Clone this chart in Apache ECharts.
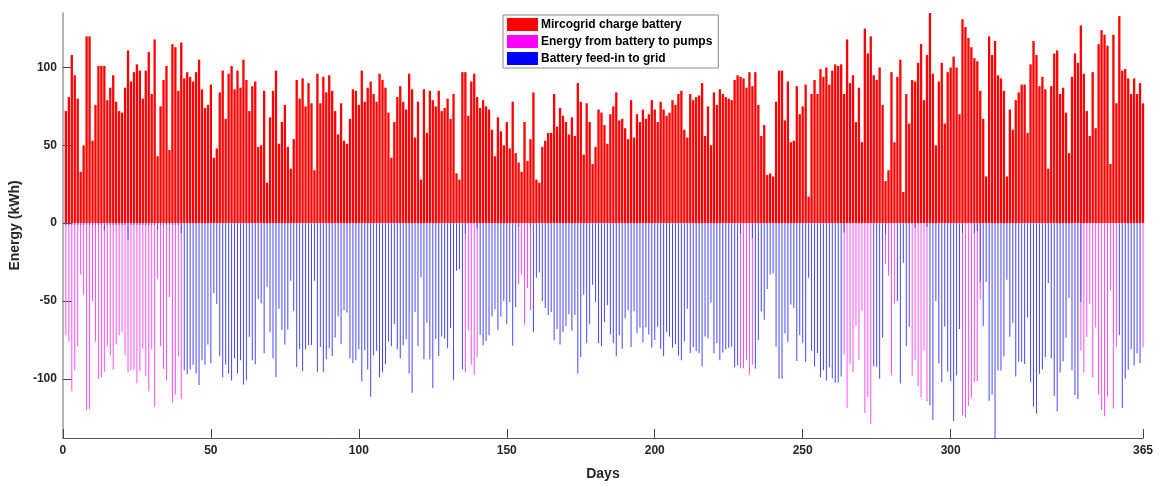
<!DOCTYPE html>
<html>
<head>
<meta charset="utf-8">
<script src="https://cdn.jsdelivr.net/npm/echarts@6/dist/echarts.min.js"></script>
<style>
  html, body { margin: 0; padding: 0; background: #fff; }
  #chart { width: 1163px; height: 486px; }
</style>
</head>
<body>
<div id="chart"></div>
<script>
// daily energy (kWh), day 1..365
const charge = [
  72, 81, 108, 95, 80, 33, 50, 120, 120, 53, 76, 101, 101, 101, 79, 87, 95, 78, 72, 71,
  87, 111, 91, 97, 102, 98, 80, 98, 110, 83, 118, 43, 75, 92, 101, 47, 115, 113, 85, 116,
  93, 97, 94, 91, 97, 105, 86, 74, 76, 89, 42, 48, 84, 98, 67, 96, 101, 86, 98, 87, 105,
  92, 72, 88, 91, 49, 50, 85, 26, 68, 85, 98, 51, 65, 76, 49, 35, 54, 92, 80, 93,
  75, 90, 77, 34, 96, 77, 94, 84, 95, 85, 72, 57, 77, 53, 51, 67, 86, 85, 76, 98,
  78, 87, 91, 83, 78, 96, 92, 87, 71, 42, 65, 81, 88, 78, 73, 96, 86, 55, 78, 28, 86, 58,
  85, 79, 75, 85, 72, 74, 80, 67, 83, 32, 28, 97, 97, 69, 91, 96, 81, 74, 79, 75,
  73, 60, 43, 68, 59, 50, 65, 48, 78, 45, 39, 33, 65, 40, 54, 84, 28, 26, 49, 53,
  58, 58, 83, 62, 74, 69, 65, 57, 68, 56, 90, 78, 44, 77, 65, 38, 49, 73, 71, 63, 51, 70,
  75, 84, 66, 67, 61, 54, 79, 55, 70, 65, 73, 67, 70, 79, 73, 65, 78, 73, 69, 71,
  79, 76, 83, 85, 60, 55, 83, 79, 81, 82, 90, 56, 75, 50, 84, 76, 86, 83, 81, 80,
  79, 92, 95, 94, 93, 87, 97, 88, 97, 76, 56, 63, 31, 32, 30, 78, 98, 98, 66, 91, 52,
  53, 88, 70, 75, 89, 17, 83, 92, 83, 99, 94, 100, 89, 98, 102, 101, 102, 83, 118, 90,
  95, 65, 87, 52, 125, 109, 120, 95, 92, 100, 76, 27, 34, 97, 52, 94, 105, 20, 83, 64,
  92, 91, 103, 115, 79, 108, 135, 96, 50, 91, 103, 64, 97, 100, 107, 100, 70, 131, 126, 119, 113, 106,
  104, 85, 67, 30, 120, 108, 117, 95, 93, 85, 30, 73, 60, 79, 84, 89, 89, 58, 102, 117,
  108, 88, 94, 86, 35, 88, 109, 111, 83, 87, 71, 45, 94, 109, 103, 127, 96, 72, 56, 97,
  61, 115, 124, 121, 114, 38, 121, 77, 133, 98, 99, 93, 83, 93, 83, 90, 77
];

// battery discharge per day (negative), either to pumps or to grid
const discharge = [
  -72, -76, -108, -94.5, -79, -33, -46, -120, -119.6, -50, -76, -100, -99, -95.5, -79, -85, -94, -78, -72, -70,
  -85, -96, -94.5, -94, -103, -95, -80.6, -98, -108, -81, -118, -35.5, -79, -93.6, -101, -47.4, -115, -110, -85.7, -113,
  -94.5, -97, -94, -91, -96.6, -104, -88, -91, -78, -90, -45, -52, -85.5, -99, -91, -96.6, -101, -87, -96.6, -88, -103.6,
  -100.9, -73, -88, -90.6, -48.7, -51.5, -83.6, -40.9, -70, -86.8, -99, -55, -68.7, -78, -68.3, -37, -56.4, -92.6, -81, -95,
  -81, -78.5, -78.3, -37, -95.7, -79.6, -95.7, -87.4, -80.4, -85.3, -73.4, -60, -77.7, -55.7, -57.4, -87, -89.8, -88, -81, -101.7,
  -81.7, -93.8, -111.5, -85, -82, -99, -96, -90.6, -76, -79, -64.7, -81, -87, -78.5, -74.5, -96.6, -109, -57, -79, -34.7, -87.4, -64,
  -87.4, -106, -74.3, -85.3, -72.8, -74.3, -80.4, -67.4, -100.6, -30.6, -29.6, -93.8, -95.7, -69, -91, -97.4, -86, -71.7, -78.5, -75.7,
  -72, -60, -55.3, -68.5, -60, -50, -65, -50.6, -78.7, -54, -39.4, -32.8, -65.3, -41.7, -56, -70, -35, -31.7, -50, -54.5,
  -59, -57, -75.3, -68, -78, -70, -66, -58.5, -69, -59, -96.8, -86, -46, -77, -65, -39.6, -50.6, -77, -79, -63.6, -52.8, -71.5,
  -77, -85.5, -72, -80.6, -61, -56, -79.6, -56.6, -70.6, -67, -76.6, -66.8, -71.5, -79.8, -75, -66.6, -80.6, -85.5, -70, -72.8,
  -80, -77.7, -85, -88, -76, -55, -83.4, -79.6, -82.3, -83.6, -92, -72.8, -74, -51, -83.6, -77, -88, -83, -81, -80,
  -79.4, -92.6, -91.3, -93.2, -93.2, -88, -97, -91, -93.4, -75, -56.8, -62, -42.3, -33, -32.3, -79.4, -100, -100, -70.8, -76.4, -52.3,
  -54.5, -88.5, -72, -76.8, -89, -35, -82, -92, -83.4, -99, -94.5, -101, -92.5, -99.6, -102.6, -102.3, -98.5, -84.5, -118.5, -90.6,
  -95.7, -66, -87.9, -56.4, -122, -111.7, -129, -92, -92.3, -100, -73.4, -26, -33.8, -97.4, -51.5, -50, -103, -25.5, -79, -66.6,
  -98, -87.7, -104.7, -111.7, -82, -114.5, -117, -126.4, -50, -90.2, -102, -66.4, -95.5, -101.5, -127, -97.7, -68, -123.4, -125, -117.4, -112.5, -102,
  -101.5, -49, -66, -37.7, -114, -110, -138, -94.7, -94.7, -85.5, -36.4, -73, -64, -98.5, -89, -89, -90.4, -60.6, -102, -118,
  -122.3, -96.8, -94, -86, -38.5, -86.8, -111, -121, -96, -88.7, -73.6, -48, -94.5, -110.4, -113, -82, -96, -73, -52, -99,
  -67, -110, -120, -124, -111.5, -43, -119, -79.6, -72, -118.7, -100, -94, -81, -91.5, -83.6, -90, -79.8
];

// day ranges where the discharge goes to the pumps (magenta)
const pumpDays = [[1, 40], [136, 140], [154, 158], [229, 233], [264, 273], [278, 281], [287, 292], [304, 310], [344, 356], [365, 365]];

// small grid feed-in left on pump days [day, kWh]
const feedTips = [
  [1, -1.2], [2, -1.2], [3, -1.2], [4, -1.2], [5, -1.2], [6, -1.2], [7, -1.2], [8, -1.2], [9, -1.2], [10, -1.2],
  [11, -1.2], [12, -1.2], [13, -1.2], [14, -4.7], [15, -1.2], [16, -1.2], [17, -1.2], [18, -1.2], [19, -1.2], [20, -1.2],
  [21, -1.2], [22, -10.6], [23, -1.2], [24, -1.2], [25, -1.2], [26, -1.2], [27, -1.2], [28, -1.2], [29, -1.2], [30, -1.2],
  [31, -1.2], [32, -4.3], [33, -1.2], [34, -1.2], [35, -1.2], [36, -1.2], [37, -1.2], [38, -1.2], [39, -1.2], [40, -6.4],
  [136, -7.2], [140, -3.4], [154, -2.5], [158, -2], [229, -7], [233, -9.6], [264, -6], [278, -7.5],
  [288, -3], [292, -2.5], [304, -6.4], [308, -6.4], [309, -5], [310, -38], [344, -50.4]
];

const xTicks = [0, 50, 100, 150, 200, 250, 300, 365];
const yTicks = [-100, -50, 0, 50, 100];

const isPump = d => pumpDays.some(r => d >= r[0] && d <= r[1]);
const chargeData = charge.map((v, i) => [i + 1, v]);
const pumpData = [];
const feedData = [];
discharge.forEach((v, i) => {
  const d = i + 1;
  if (isPump(d)) pumpData.push([d, v]);
  else feedData.push([d, v]);
});
feedTips.forEach(t => feedData.push(t));

const font = 'Liberation Sans, Arial, Helvetica, sans-serif';
const hiddenX = () => ({ type: 'value', min: 0, max: 365, show: false, gridIndex: 0 });

const chart = echarts.init(document.getElementById('chart'));
chart.setOption({
  animation: false,
  textStyle: { fontFamily: font },
  grid: { left: 62, right: 20, top: 13, bottom: 45 },
  legend: {
    orient: 'vertical',
    left: 503, top: 15,
    padding: [3, 6, 3, 4],
    itemWidth: 31, itemHeight: 13, itemGap: 4,
    icon: 'rect',
    backgroundColor: '#fff',
    borderColor: '#8a8a8a', borderWidth: 1,
    data: [
      { name: 'Mircogrid charge battery', itemStyle: { color: '#ff0000' } },
      { name: 'Energy from battery to pumps', itemStyle: { color: '#ff00ff' } },
      { name: 'Battery feed-in to grid', itemStyle: { color: '#0000ff' } }
    ],
    textStyle: { fontSize: 12, fontWeight: 'bold', color: '#000', padding: [0, 0, 0, -2] }
  },
  xAxis: [
    {
      type: 'value', min: 0, max: 365,
      name: 'Days', nameLocation: 'middle', nameGap: 29,
      nameTextStyle: { fontSize: 14, fontWeight: 'bold', color: '#262626' },
      axisLine: { onZero: false, lineStyle: { color: '#555', width: 1 } },
      axisTick: { inside: true, length: 9, customValues: xTicks, lineStyle: { color: '#444' } },
      axisLabel: { customValues: xTicks, fontSize: 12, fontWeight: 'bold', color: '#262626', margin: 7 },
      splitLine: { show: false }
    },
    hiddenX(),
    hiddenX()
  ],
  yAxis: {
    type: 'value', min: -138, max: 135,
    name: 'Energy (kWh)', nameLocation: 'middle', nameGap: 34,
    nameTextStyle: { fontSize: 14, fontWeight: 'bold', color: '#262626' },
    axisLine: { show: true, lineStyle: { color: '#9a9a9a', width: 1.5 } },
    axisTick: { show: true, inside: true, length: 9, customValues: yTicks, lineStyle: { color: '#444' } },
    axisLabel: { customValues: yTicks, fontSize: 12, fontWeight: 'bold', color: '#262626', margin: 6 },
    splitLine: { show: false }
  },
  series: [
    {
      name: 'Mircogrid charge battery', type: 'bar', xAxisIndex: 0,
      barWidth: 2.3, data: chargeData,
      itemStyle: { color: '#ff0000' }
    },
    {
      name: 'Energy from battery to pumps', type: 'bar', xAxisIndex: 1,
      barWidth: 1, data: pumpData,
      itemStyle: { color: '#ff4dff' }
    },
    {
      name: 'Battery feed-in to grid', type: 'bar', xAxisIndex: 2,
      barWidth: 1, data: feedData,
      itemStyle: { color: '#4646ff' }
    }
  ]
});
</script>
</body>
</html>
